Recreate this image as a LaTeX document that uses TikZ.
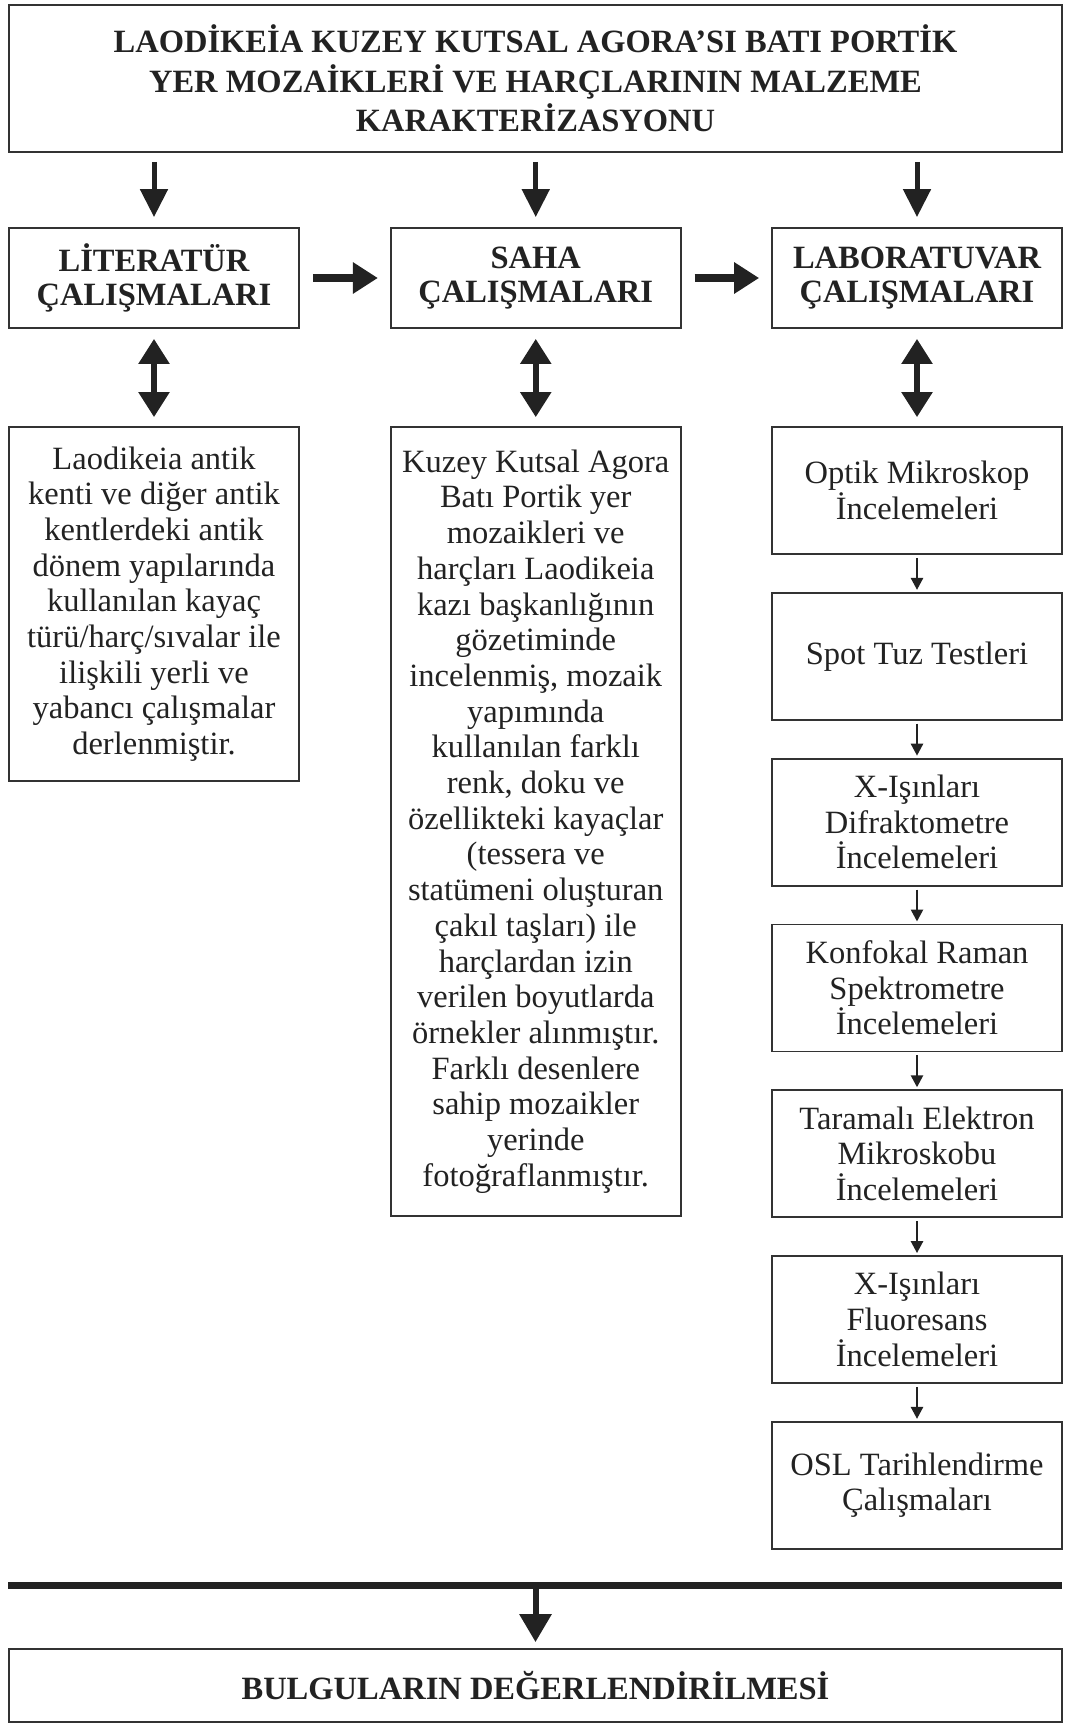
\documentclass[tikz,border=0pt]{standalone}
\usepackage{fontspec}
\setmainfont{Liberation Serif}
\usetikzlibrary{arrows.meta}
\definecolor{ink}{HTML}{222222}
\definecolor{edge}{HTML}{333333}
\begin{document}
\begin{tikzpicture}[x=1pt,y=-1pt,
  box/.style={draw=edge, line width=1.8pt, inner sep=0pt, align=center, text=ink,
    font={\fontsize{32.5}{35.7}\selectfont}},
  bbox/.style={box, font={\bfseries\fontsize{32.5}{34}\selectfont}},
  labbox/.style={box, minimum width=290pt, minimum height=127pt},
  bigarrow/.style={ink, line width=5pt, -{Triangle[length=28pt,width=27pt]}},
  harrow/.style={ink, line width=8pt, -{Triangle[length=25pt,width=30pt]}},
  dblarrow/.style={ink, line width=5.5pt, {Triangle[length=25pt,width=30pt]}-{Triangle[length=25pt,width=30pt]}},
  smallarrow/.style={ink, line width=2.5pt, -{Triangle[length=12pt,width=12pt]}}
]
\useasboundingbox (0,0) rectangle (1067,1724);

% title
\node[bbox, minimum width=1053pt, minimum height=147pt, font={\bfseries\fontsize{32.5}{39.5}\selectfont}] (title) at (535.5,78.5)
  {LAODİKEİA KUZEY KUTSAL AGORA’SI BATI PORTİK\\YER MOZAİKLERİ VE HARÇLARININ MALZEME\\KARAKTERİZASYONU};

% row 2
\node[bbox, minimum width=290pt, minimum height=100pt] (lit) at (154,278) {LİTERATÜR\\ÇALIŞMALARI};
\node[bbox, minimum width=290pt, minimum height=100pt] (saha) at (535.75,278) {SAHA\\ÇALIŞMALARI};
\node[bbox, minimum width=290pt, minimum height=100pt] (lab) at (917,278) {LABORATUVAR\\ÇALIŞMALARI};

% row 3
\node[box, minimum width=290pt, minimum height=354pt] (littext) at (154,604)
  {Laodikeia antik\\kenti ve diğer antik\\kentlerdeki antik\\dönem yapılarında\\kullanılan kayaç\\türü/harç/sıvalar ile\\ilişkili yerli ve\\yabancı çalışmalar\\derlenmiştir.};
\node[box, minimum width=290pt, minimum height=789pt] (sahatext) at (535.75,821.5)
  {Kuzey Kutsal Agora\\Batı Portik yer\\mozaikleri ve\\harçları Laodikeia\\kazı başkanlığının\\gözetiminde\\incelenmiş, mozaik\\yapımında\\kullanılan farklı\\renk, doku ve\\özellikteki kayaçlar\\(tessera ve\\statümeni oluşturan\\çakıl taşları) ile\\harçlardan izin\\verilen boyutlarda\\örnekler alınmıştır.\\Farklı desenlere\\sahip mozaikler\\yerinde\\fotoğraflanmıştır.};

\node[labbox] (l1) at (917,490.5) {Optik Mikroskop\\İncelemeleri};
\node[labbox] (l2) at (917,656.3) {Spot Tuz Testleri};
\node[labbox] (l3) at (917,822.1) {X-Işınları\\Difraktometre\\İncelemeleri};
\node[labbox] (l4) at (917,987.9) {Konfokal Raman\\Spektrometre\\İncelemeleri};
\node[labbox] (l5) at (917,1153.7) {Taramalı Elektron\\Mikroskobu\\İncelemeleri};
\node[labbox] (l6) at (917,1319.5) {X-Işınları\\Fluoresans\\İncelemeleri};
\node[labbox] (l7) at (917,1485.3) {OSL Tarihlendirme\\Çalışmaları};

% bottom
\node[bbox, minimum width=1053pt, minimum height=73pt] (result) at (535.5,1685.5) {BULGULARIN DEĞERLENDİRİLMESİ};

% arrows title -> row2
\foreach \n in {lit,saha,lab}
  \draw[bigarrow, shorten <=9pt, shorten >=10pt] (title.south -| \n.north) -- (\n.north);
% horizontal arrows
\draw[harrow, shorten <=13pt, shorten >=12pt] (lit.east) -- (saha.west);
\draw[harrow, shorten <=13pt, shorten >=12pt] (saha.east) -- (lab.west);
% double arrows
\draw[dblarrow, shorten <=10pt, shorten >=9pt] (lit.south) -- (littext.north);
\draw[dblarrow, shorten <=10pt, shorten >=9pt] (saha.south) -- (sahatext.north);
\draw[dblarrow, shorten <=10pt, shorten >=9pt] (lab.south) -- (l1.north);
% lab chain
\foreach \a/\b in {l1/l2,l2/l3,l3/l4,l4/l5,l5/l6,l6/l7}
  \draw[smallarrow, shorten <=3pt, shorten >=2pt] (\a.south) -- (\b.north);

% thick bar
\coordinate (barL) at (8,1585);
\coordinate (barR) at (1062,1585);
\coordinate (barM) at (535.5,1585);
\draw[ink, line width=7pt] (barL) -- (barR);
\draw[ink, line width=6pt, -{Triangle[length=28pt,width=31pt]}, shorten >=6pt] (barM) -- (result.north);
\end{tikzpicture}
\end{document}
